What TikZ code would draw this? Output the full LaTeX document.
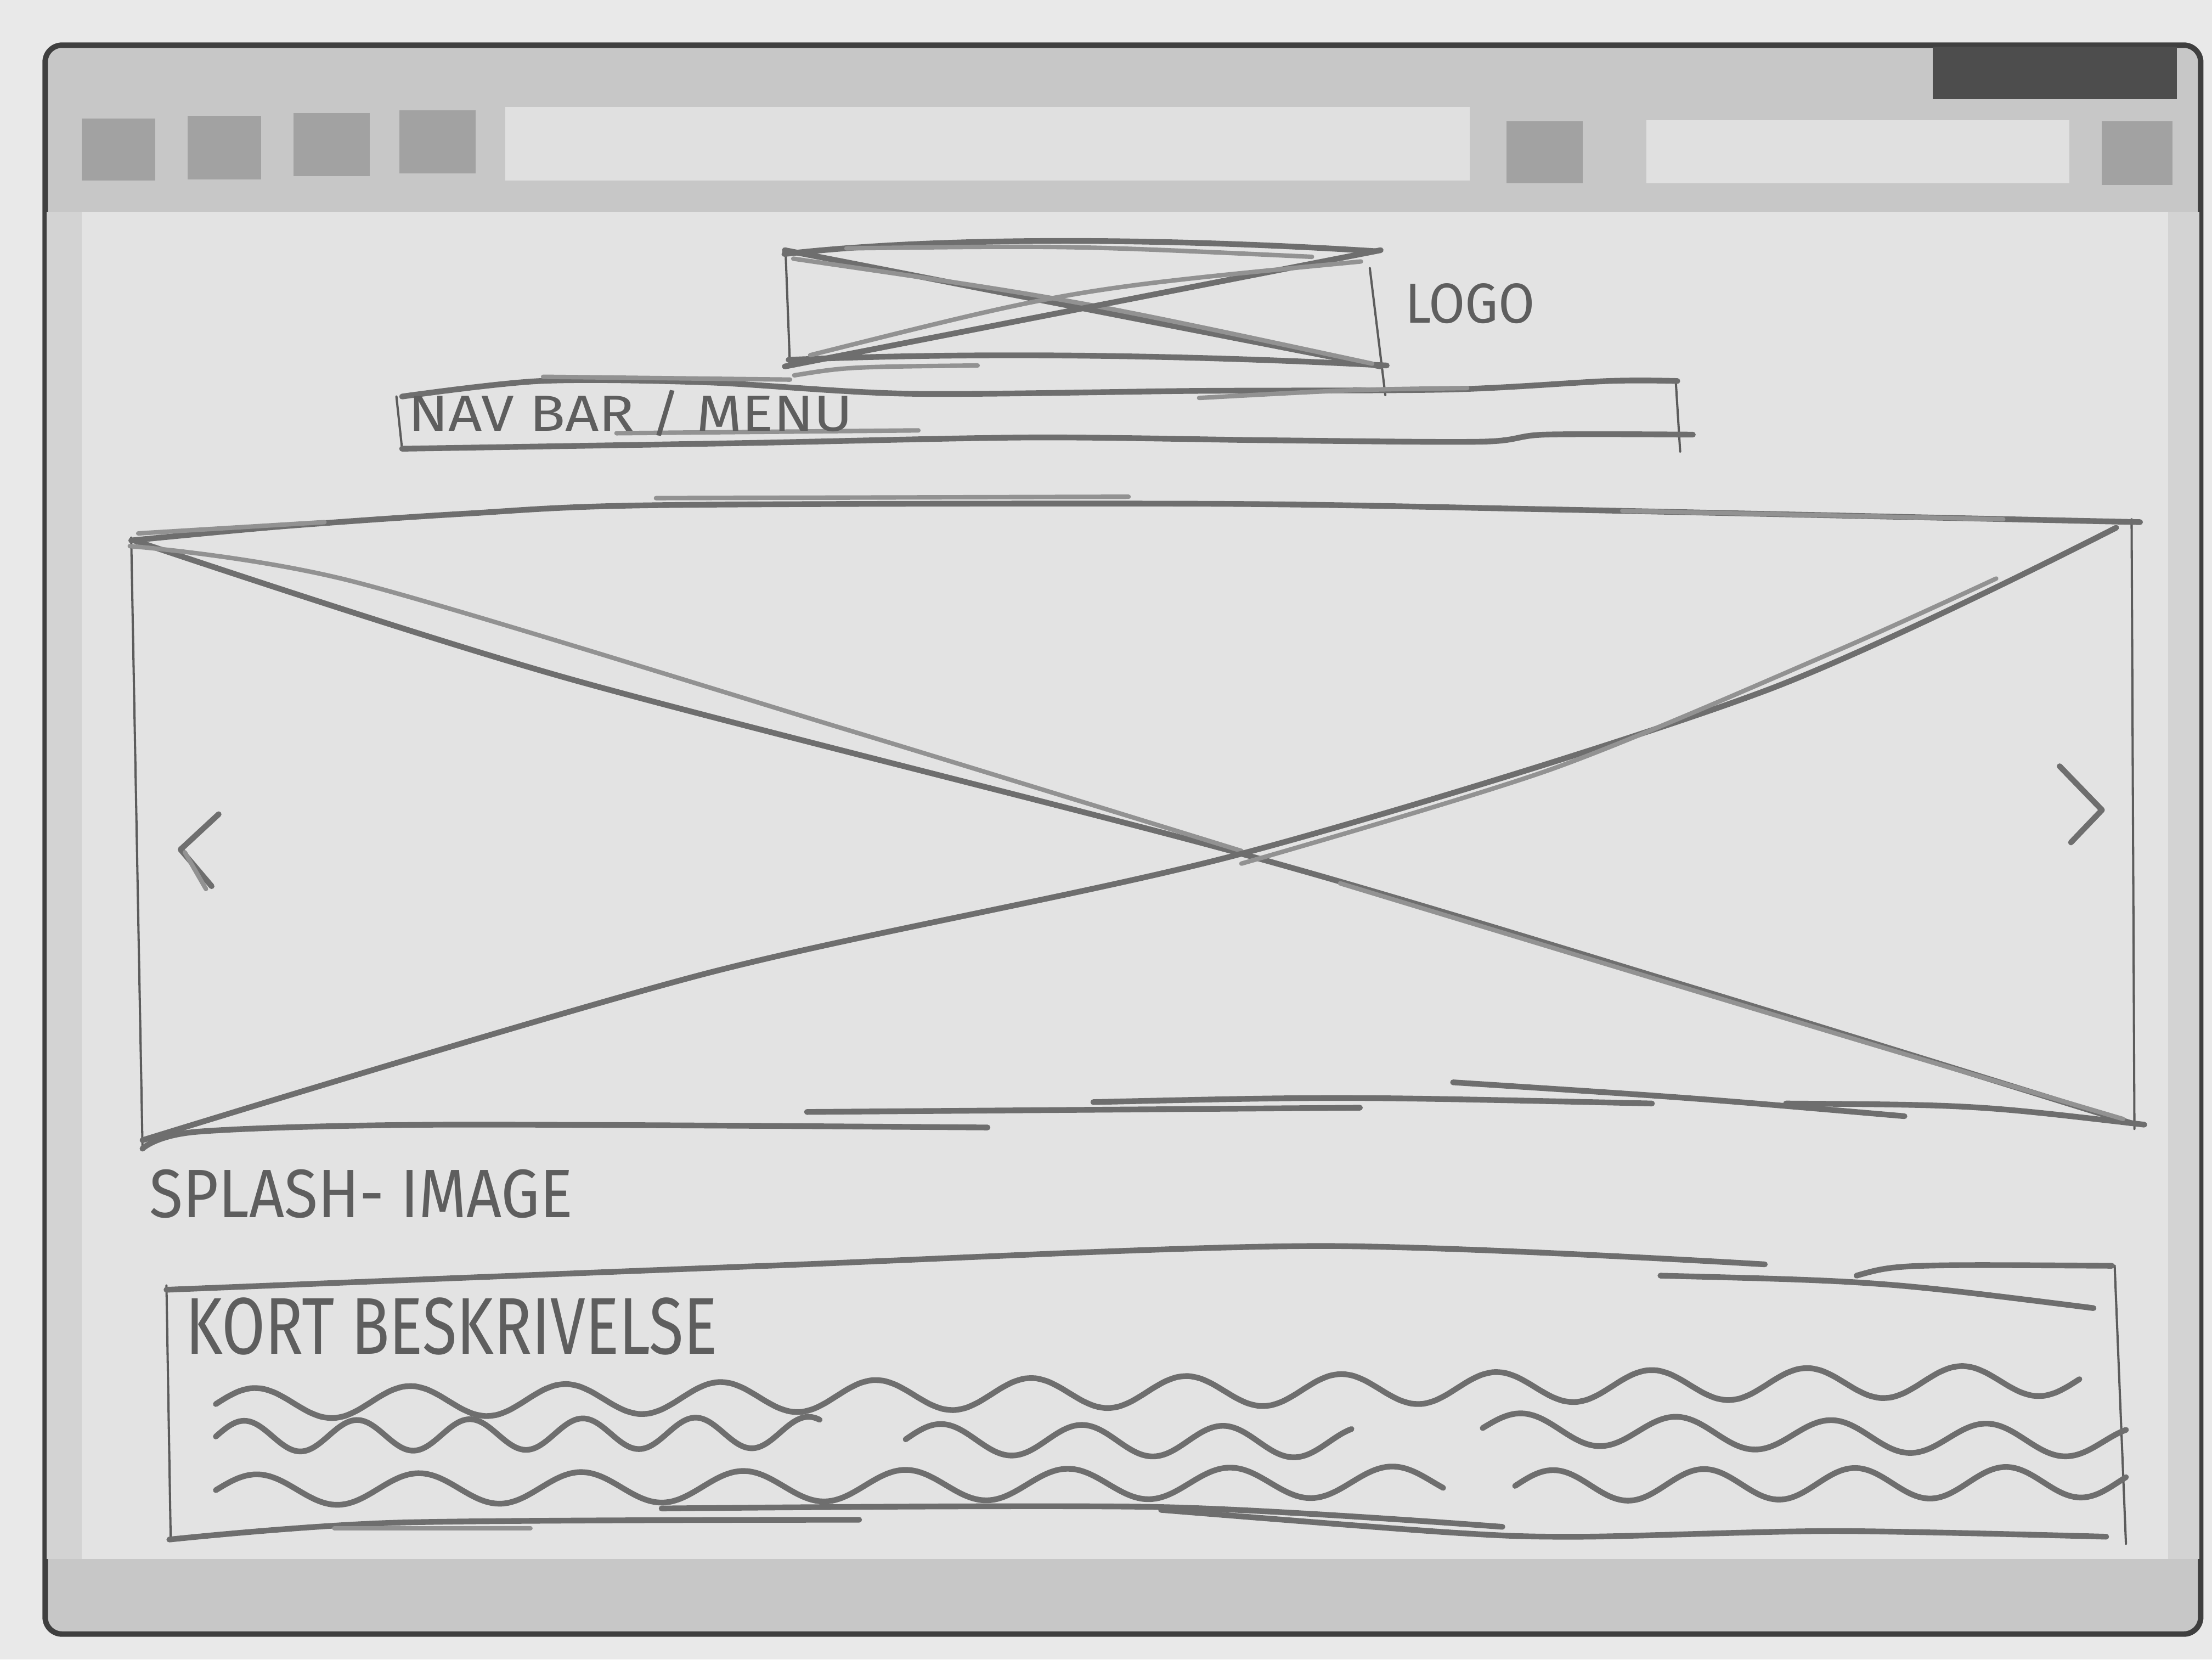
\documentclass[tikz,border=0pt]{standalone}
\usepackage{fontspec}
\setmainfont{Fira Sans}
\usetikzlibrary{fit}
\definecolor{paper}{HTML}{E9E9E9}
\definecolor{framegrey}{HTML}{C7C7C7}
\definecolor{sidegrey}{HTML}{D3D3D3}
\definecolor{contentgrey}{HTML}{E3E3E3}
\definecolor{btngrey}{HTML}{A2A2A2}
\definecolor{fieldgrey}{HTML}{E0E0E0}
\definecolor{darkgrey}{HTML}{4D4D4D}
\definecolor{outlinegrey}{HTML}{3F3F3F}
\definecolor{pencil}{HTML}{6E6E6E}
\definecolor{pencilthin}{HTML}{5C5C5C}
\definecolor{inkgrey}{HTML}{5E5E5E}
% #1,#2 start; #3,#4 end; #5 wavelength; #6 amplitude (all in picture units)
\newcommand{\wavyline}[6]{%
  \draw[pen] plot[domain=#1:#3, samples=160, smooth, variable=\t]
    (\t, {#2 + ((\t-#1)/(#3-#1))*(#4-#2) - #6*sin(((\t-#1)/#5)*360)});}
\begin{document}
\begin{tikzpicture}[x=0.1mm,y=-0.1mm,
  window/.style={draw=outlinegrey,line width=1.1pt,fill=framegrey,rounded corners=1.2mm,inner sep=0pt},
  contentarea/.style={fill=contentgrey,draw=none,inner sep=0pt},
  btnbox/.style={fill=btngrey,draw=none,inner sep=0pt},
  fieldbox/.style={fill=fieldgrey,draw=none,inner sep=0pt},
  darkbox/.style={fill=darkgrey,draw=none,inner sep=0pt},
  hiddenbox/.style={draw=none,inner sep=0pt},
  pen/.style={draw=pencil,line width=1.15pt,line cap=round,line join=round},
  penlight/.style={draw=pencil!75,line width=0.9pt,line cap=round,line join=round},
  penthin/.style={draw=pencilthin,line width=0.45pt,line cap=round},
  handtext/.style={text=inkgrey,inner sep=0pt}]
\useasboundingbox (0,0) rectangle (1568,1176);
\fill[paper] (0,0) rectangle (1568,1176);

% ---------- browser window ----------
\node[window,fit={(32,32) (1560,1158)}] (win) {};
\fill[sidegrey] (33,150) rectangle (58,1105);
\fill[sidegrey] (1537,150) rectangle (1559,1105);
\node[contentarea,fit={(58,150) (1537,1105)}] (content) {};
\node[darkbox,fit={(1370,33) (1543,70)}] (winctl) {};
\node[btnbox,fit={(58,84) (110,128)}] (b1) {};
\node[btnbox,fit={(133,82) (185,127)}] (b2) {};
\node[btnbox,fit={(208,80) (262,125)}] (b3) {};
\node[btnbox,fit={(283,78) (337,123)}] (b4) {};
\node[fieldbox,fit={(358,76) (1042,128)}] (url) {};
\node[btnbox,fit={(1068,86) (1122,130)}] (b5) {};
\node[fieldbox,fit={(1167,85) (1467,130)}] (search) {};
\node[btnbox,fit={(1490,86) (1540,131)}] (b6) {};

% ---------- logo ----------
\node[hiddenbox,fit={(557,178) (978,259)}] (logo) {};
\draw[penthin] (557,182) -- (560,260);
\draw[penthin] (971,190) -- (982,280);
\draw[pen] (556,180) .. controls (680,166) and (850,170) .. (975,178);
\draw[penlight] (600,176) .. controls (760,174) .. (930,182);
\draw[pen] (559,255) .. controls (700,249) and (850,252) .. (983,259);
\draw[penlight] (563,266) .. controls (600,260) .. (693,259);
\draw[pen] (logo.north west) -- (logo.south east);
\draw[penlight] ([shift={(6,6)}]logo.north west) .. controls (760,212) .. ([shift={(-6,-2)}]logo.south east);
\draw[pen] (logo.south west) -- (logo.north east);
\draw[penlight] ([shift={(18,-8)}]logo.south west) .. controls (760,205) .. ([shift={(-14,8)}]logo.north east);
\node[handtext] (logotxt) at (1042,215) {\resizebox{9.2mm}{2.8mm}{LOGO}};

% ---------- nav bar ----------
\node[hiddenbox,fit={(284,274) (1192,314)}] (nav) {};
\draw[penthin] (281,281) -- (285,318);
\draw[penthin] (1188,272) -- (1191,320);
\draw[pen] plot[smooth] coordinates {(285,281) (383,270) (502,271) (644,279) (849,277) (1028,276) (1140,270) (1189,270)};
\draw[penlight] (385,267) -- (560,269);
\draw[penlight] (850,282) .. controls (960,276) .. (1040,275);
\draw[pen] plot[smooth] coordinates {(285,318) (526,314) (731,310) (900,312) (1050,313) (1095,308) (1200,308)};
\draw[penlight] (437,307) -- (651,305);
\node[handtext] (navtxt) at (447,293) {\resizebox{31.5mm}{2.9mm}{NAV BAR / MENU}};

% ---------- splash image ----------
\node[hiddenbox,fit={(95,365) (1512,805)}] (splash) {};
\draw[penthin] (93,381) -- (101,812);
\draw[penthin] (1511,368) -- (1513,800);
\draw[pen] plot[smooth] coordinates {(93,383) (200,373) (330,364) (465,358) (856,357) (1100,361) (1517,370)};
\draw[penlight] (98,378) -- (230,370);
\draw[penlight] (465,353) -- (800,352);
\draw[penlight] (1150,362) -- (1420,368);
\draw[pen] plot[smooth] coordinates {(101,814) (140,802) (313,797) (700,799)};
\draw[pen] (572,788) -- (964,785);
\draw[pen] (775,781) .. controls (950,777) .. (1171,782);
\draw[pen] (1030,767) .. controls (1200,778) .. (1350,791);
\draw[pen] (1266,782) .. controls (1400,783) .. (1520,797);
\draw[pen] plot[smooth] coordinates {(95,383) (400,480) (880,605) (1200,700) (1511,796)};
\draw[penlight] plot[smooth] coordinates {(92,387) (250,412) (600,517) (880,603)};
\draw[penlight] plot[smooth] coordinates {(950,626) (1300,732) (1505,793)};
\draw[pen] plot[smooth] coordinates {(101,808) (500,690) (880,605) (1250,490) (1500,374)};
\draw[penlight] plot[smooth] coordinates {(880,612) (1100,545) (1300,462) (1415,410)};
\draw[pen] (155,577) -- (128,602) -- (150,628);
\draw[penlight] (131,604) -- (146,630);
\draw[pen] (1460,543) -- (1490,574) -- (1468,597);
\node[handtext] (splashtxt) at (256,846) {\resizebox{30mm}{3.4mm}{SPLASH- IMAGE}};

% ---------- short description ----------
\node[hiddenbox,fit={(120,898) (1506,1090)}] (kort) {};
\draw[penthin] (118,911) -- (121,1091);
\draw[penthin] (1499,897) -- (1507,1094);
\draw[pen] plot[smooth] coordinates {(118,914) (544,897) (935,883) (1251,896)};
\draw[pen] (1177,904) .. controls (1333,908) .. (1484,927);
\draw[pen] (1316,904) .. controls (1344,896) .. (1497,897);
\draw[pen] plot[smooth] coordinates {(120,1091) (283,1079) (609,1077)};
\draw[pen] plot[smooth] coordinates {(469,1069) (823,1068) (1065,1082)};
\draw[pen] plot[smooth] coordinates {(823,1070) (1028,1086) (1121,1089) (1300,1085) (1493,1089)};
\draw[penlight] (237,1083) -- (376,1083);
\node[handtext] (kortxt) at (320,940) {\resizebox{37.7mm}{4mm}{KORT BESKRIVELSE}};

% wavy text lines
\wavyline{153}{995}{1474}{978}{110}{11}
\wavyline{153}{1018}{581}{1015}{80}{11}
\wavyline{642}{1020}{958}{1022}{100}{11}
\wavyline{1051}{1012}{1507}{1022}{110}{11}
\wavyline{153}{1056}{1023}{1050}{115}{11}
\wavyline{1074}{1053}{1507}{1050}{107}{11}
\end{tikzpicture}
\end{document}
